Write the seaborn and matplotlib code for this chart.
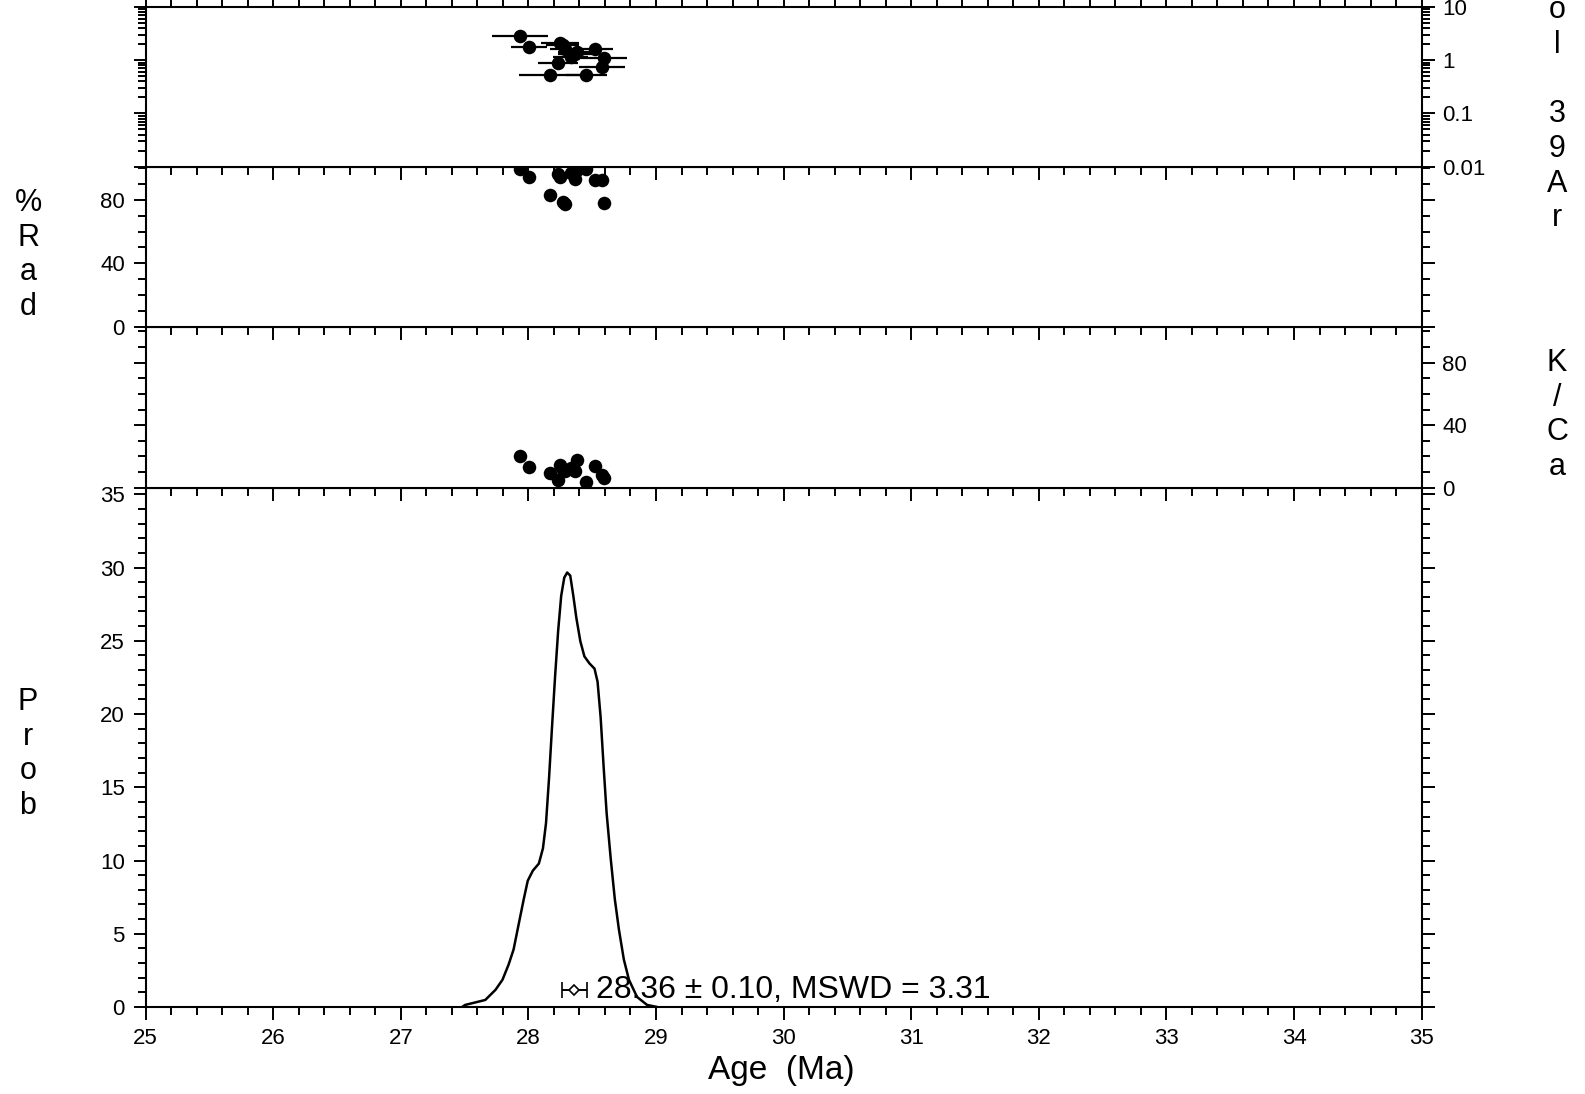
import numpy as np
import matplotlib
matplotlib.use("Agg")
import matplotlib.pyplot as plt
import seaborn as sns
from matplotlib.ticker import MultipleLocator, LogLocator, FuncFormatter, NullFormatter

# single crystal steps
age = [27.935, 28.005, 28.170, 28.232, 28.248, 28.270, 28.290, 28.330,
       28.365, 28.380, 28.455, 28.520, 28.575, 28.595]
age_err = [0.22, 0.14, 0.24, 0.16, 0.15, 0.13, 0.12, 0.14,
           0.13, 0.15, 0.16, 0.14, 0.18, 0.18]
mol_39ar = [2.87, 1.74, 0.52, 0.87, 2.07, 1.90, 1.60, 1.16,
            1.30, 1.45, 0.52, 1.66, 0.75, 1.08]
pct_rad = [99.5, 94.5, 83.0, 96.5, 94.5, 78.5, 77.5, 97.0,
           93.0, 99.0, 99.5, 92.8, 92.8, 78.0]
k_ca = [20.0, 13.0, 9.7, 5.0, 14.7, 11.5, 10.4, 12.5,
        10.4, 17.5, 3.9, 13.6, 8.0, 6.5]

# probability curve
prob_age = [27.48, 27.504, 27.662, 27.742, 27.797, 27.845, 27.884, 27.924, 27.964,
            27.995, 28.035, 28.082, 28.114, 28.138, 28.162, 28.185, 28.209,
            28.233, 28.257, 28.281, 28.304, 28.328, 28.352, 28.376, 28.407,
            28.439, 28.479, 28.518, 28.542, 28.566, 28.590, 28.613, 28.645,
            28.677, 28.709, 28.748, 28.788, 28.851, 28.930, 29.010]
prob_val = [0.0, 0.14, 0.48, 1.17, 1.86, 2.90, 3.93, 5.66, 7.38,
            8.62, 9.31, 9.79, 10.83, 12.55, 15.66, 19.10, 22.55,
            25.66, 28.07, 29.31, 29.66, 29.45, 28.07, 26.55, 24.97,
            23.93, 23.45, 23.10, 22.21, 19.79, 16.34, 13.24, 10.14,
            7.38, 5.31, 3.24, 1.86, 0.69, 0.14, 0.0]

mean_age = 28.36
mean_err = 0.10
mswd = 3.31

sns.set_theme(style="ticks")
plt.rcParams['font.family'] = ['Liberation Sans', 'DejaVu Sans']
plt.rcParams['axes.linewidth'] = 1.5
plt.rcParams['text.color'] = 'black'
plt.rcParams['axes.labelcolor'] = 'black'
plt.rcParams['xtick.color'] = 'black'
plt.rcParams['ytick.color'] = 'black'

W, H = 1585, 1094
fig = plt.figure(figsize=(W / 100, H / 100), dpi=100)

left = 145.6 / W
width = 1276 / W
ax4 = fig.add_axes([left, 1 - 1007 / H, width, (1007 - 487.7) / H])
ax3 = fig.add_axes([left, 1 - 487.7 / H, width, (487.7 - 326.7) / H], sharex=ax4)
ax2 = fig.add_axes([left, 1 - 326.7 / H, width, (326.7 - 166.7) / H], sharex=ax4)
ax1 = fig.add_axes([left, 1 - 166.7 / H, width, (166.7 - 7) / H], sharex=ax4)

for ax in (ax1, ax2, ax3, ax4):
    ax.tick_params(which='both', direction='out', width=1.4, colors='black',
                   labelsize=16, top=False, bottom=True, left=True, right=True,
                   labelbottom=False, labeltop=False, labelleft=False, labelright=False)
    ax.tick_params(which='major', length=9, pad=6)
    ax.tick_params(which='minor', length=5.5)
    for s in ax.spines.values():
        s.set_color('black')

ax4.set_xlim(25, 35)
ax4.xaxis.set_major_locator(MultipleLocator(1))
ax4.xaxis.set_minor_locator(MultipleLocator(0.2))

# Mol 39Ar
ax1.errorbar(age, mol_39ar, xerr=age_err, fmt='none', ecolor='black', elinewidth=1.6, zorder=2)
sns.scatterplot(x=age, y=mol_39ar, ax=ax1, color='black', s=95, linewidth=0, zorder=3)
ax1.set_yscale('log')
ax1.set_ylim(0.01, 10)
ax1.yaxis.set_major_locator(LogLocator(base=10))
ax1.yaxis.set_minor_locator(LogLocator(base=10, subs=np.arange(2, 10)))
ax1.yaxis.set_major_formatter(FuncFormatter(lambda v, _: f"{v:g}"))
ax1.yaxis.set_minor_formatter(NullFormatter())
ax1.tick_params(which='both', top=True, labelright=True)

# %Rad
sns.scatterplot(x=age, y=pct_rad, ax=ax2, color='black', s=95, linewidth=0, zorder=3)
ax2.set_ylim(0, 101)
ax2.yaxis.set_major_locator(MultipleLocator(40))
ax2.yaxis.set_minor_locator(MultipleLocator(10))
ax2.tick_params(which='both', labelleft=True)

# K/Ca
sns.scatterplot(x=age, y=k_ca, ax=ax3, color='black', s=95, linewidth=0, zorder=3)
ax3.set_ylim(0, 103)
ax3.yaxis.set_major_locator(MultipleLocator(40))
ax3.yaxis.set_minor_locator(MultipleLocator(10))
ax3.tick_params(which='both', labelright=True)

# probability
sns.lineplot(x=prob_age, y=prob_val, ax=ax4, color='black', linewidth=1.8,
             sort=False, estimator=None)
ax4.set_ylim(0, 35.45)
ax4.yaxis.set_major_locator(MultipleLocator(5))
ax4.yaxis.set_minor_locator(MultipleLocator(1))
ax4.tick_params(which='both', labelleft=True, labelbottom=True)
ax4.errorbar([mean_age], [1.15], xerr=[mean_err], fmt='D', mfc='white', mec='black',
             ms=5, mew=1.2, ecolor='black', elinewidth=1.4, capsize=6, capthick=1.4)
ax4.text(28.53, 1.15, f"{mean_age:.2f} \u00b1 {mean_err:.2f}, MSWD = {mswd:.2f}",
         fontsize=23, va='center', ha='left', color='black')

for ax in (ax1, ax2, ax3, ax4):
    ax.set_xlabel("")
    ax.set_ylabel("")

fig.text(781 / W, 1 - 1070 / H, "Age  (Ma)", fontsize=24, ha='center', va='center')

lab = dict(fontsize=22, ha='center', va='center', linespacing=1.2)
fig.text(28 / W, 1 - 255 / H, "%\nR\na\nd", **lab)
fig.text(28 / W, 1 - 754 / H, "P\nr\no\nb", **lab)
fig.text(1557 / W, 1 - 415 / H, "K\n/\nC\na", **lab)
fig.text(1557 / W, 1 - 97 / H, "M\no\nl\n \n3\n9\nA\nr", **lab)

fig.savefig("out.png", dpi=100)
